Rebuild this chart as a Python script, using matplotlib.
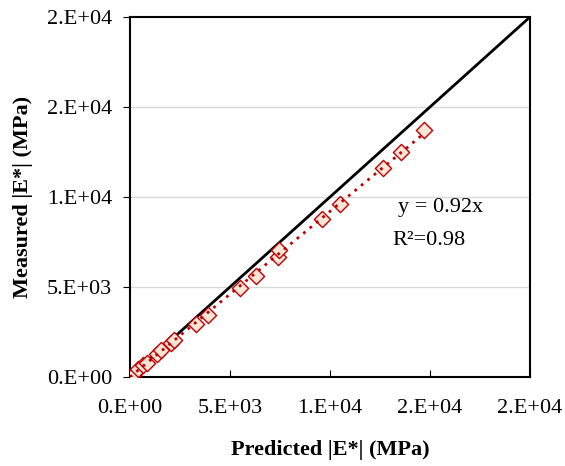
import numpy as np
import matplotlib.pyplot as plt

plt.rcParams['font.family'] = ['Liberation Serif', 'DejaVu Serif']

# predicted vs measured |E*| (MPa)
predicted = [213, 391, 658, 836, 1369, 1547, 2050, 2222, 3324, 3911, 5511, 6311,
             7413, 7467, 9600, 10524, 12658, 13547, 14702]
measured = [147, 424, 645, 793, 1290, 1493, 1900, 2083, 2968, 3465, 4922, 5622,
            6654, 7060, 8774, 9604, 11631, 12498, 13696]
slope = 0.92
r2 = 0.98

tick_vals = [0, 5000, 10000, 15000, 20000]
tick_labels = ["0.E+00", "5.E+03", "1.E+04", "2.E+04", "2.E+04"]

fig = plt.figure(figsize=(5.65, 4.66), dpi=100)
ax = fig.add_axes([0.230, 0.191, 0.708, 0.7725])

ax.set_xlim(0, 20000)
ax.set_ylim(0, 20000)

for v in tick_vals[1:-1]:
    ax.axhline(v, color="#d9d9d9", lw=1, zorder=0)

# line of equality
ax.plot([0, 20000], [0, 20000], color="black", lw=2, zorder=2)

# fitted line y = 0.92x
xf = np.array([0, max(predicted)])
ax.plot(xf, slope * xf, color="#c00000", lw=2, ls=(0, (1, 2)), zorder=4)

ax.scatter(predicted, measured, marker="D", s=68, facecolor="#fbe5d6",
           edgecolor="#c00000", linewidth=1, zorder=3)

ax.text(13400, 9444, "y = 0.92x", fontsize=16, va="center")
ax.text(13100, 7611, "R\u00b2=0.98", fontsize=16, va="center")

ax.set_xticks(tick_vals)
ax.set_xticklabels(tick_labels)
ax.set_yticks(tick_vals)
ax.set_yticklabels(tick_labels)
ax.tick_params(axis="x", direction="in", labelsize=16, length=5, pad=16)
ax.tick_params(axis="y", direction="out", labelsize=16, length=5, pad=8)

for s in ax.spines.values():
    s.set_linewidth(1.5)

ax.set_xlabel("Predicted |E*| (MPa)", fontsize=16, fontweight="bold", labelpad=16)
ax.set_ylabel("Measured |E*| (MPa)", fontsize=16, fontweight="bold", labelpad=10)

fig.savefig("out.png", dpi=100)
